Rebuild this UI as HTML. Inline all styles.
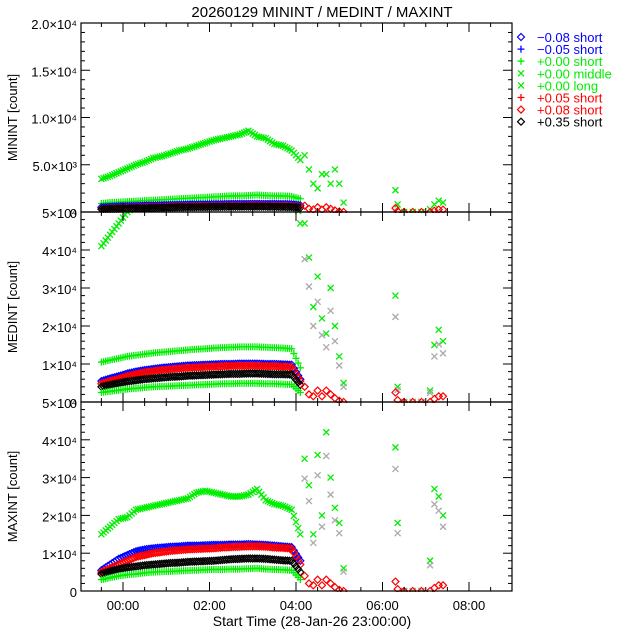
<!DOCTYPE html>
<html><head><meta charset="utf-8"><style>
body{margin:0;background:#fff;}
svg{display:block;font-family:"Liberation Sans",sans-serif;}
</style></head><body>
<svg id="c" width="640" height="640" viewBox="0 0 640 640">
<defs>
<clipPath id="cp0"><rect x="81" y="23" width="431" height="190"/></clipPath>
<clipPath id="cp1"><rect x="81" y="212" width="431" height="191"/></clipPath>
<clipPath id="cp2"><rect x="81" y="402" width="431" height="190"/></clipPath>
</defs>
<text x="322" y="17" font-size="15" text-anchor="middle">20260129 MININT / MEDINT / MAXINT</text>
<g id="marks"></g><g id="axes"></g>
<text x="312" y="626" font-size="14" text-anchor="middle">Start Time (28-Jan-26 23:00:00)</text>
<g id="legend"></g>
</svg>
<script>
const T=[-0.5,-0.3,-0.1,0.1,0.3,0.5,0.7,0.9,1.1,1.3,1.5,1.7,1.9,2.1,2.3,2.5,2.7,2.9,3.1,3.3,3.5,3.7,3.9,4.1];
// MININT (counts)
const minMid=[3500,3800,4200,4600,5000,5300,5700,5900,6200,6500,6700,7000,7300,7600,7800,8000,8200,8600,8000,7800,7200,7000,6500,5500];
const minLong=[900,1000,1050,1100,1150,1200,1250,1300,1350,1400,1450,1500,1550,1600,1650,1700,1700,1750,1800,1750,1700,1700,1650,1400];
const minBlue=[500,550,600,620,650,680,700,720,740,760,780,800,800,820,830,850,850,860,860,850,850,840,820,700];
const minRed=[400,450,500,520,550,580,600,620,640,660,680,700,700,720,730,740,750,750,760,750,740,740,720,600];
const minBlack=[300,330,360,380,400,420,440,460,480,500,510,520,530,540,550,560,560,570,570,560,550,540,520,450];
// MEDINT
const medLong=[41000,44000,47000,50000,52000,54000,56000,58000,60000,60000,60000,60000,60000,60000,60000,60000,60000,60000,60000,60000,60000,60000,60000,47000];
const medMid=[10500,11000,11500,12000,12300,12600,12900,13100,13300,13500,13700,13900,14000,14200,14300,14400,14500,14500,14500,14400,14300,14200,14000,9000];
const medBlue=[5500,6200,6800,7500,8000,8400,8700,9000,9200,9400,9600,9700,9800,9900,10000,10000,10100,10100,10100,10000,10000,9900,9800,6000];
const medRed=[4800,5500,6100,6800,7300,7800,8100,8400,8600,8800,9000,9100,9200,9300,9400,9500,9500,9500,9500,9400,9400,9300,9200,5500];
const medBlack=[4000,4500,5000,5400,5700,6000,6200,6400,6600,6700,6900,7000,7100,7200,7300,7400,7400,7500,7500,7400,7300,7300,7200,4500];
const medPlus=[2500,2800,3100,3400,3600,3800,4000,4100,4200,4300,4400,4500,4600,4700,4800,4800,4900,4900,4900,4800,4800,4700,4600,2500];
// MAXINT
const maxMid=[15000,17000,19000,19500,21500,22000,22500,23000,23500,24000,24500,26000,26500,26000,25500,25000,25000,25500,27000,24000,23000,22500,21500,15000];
const maxBlue=[5500,7000,8500,9500,10500,11000,11300,11500,11700,11800,12000,12000,12100,12200,12200,12300,12300,12400,12300,12200,12000,11800,11600,8000];
const maxRed=[5000,6000,7000,8000,9000,9500,10000,10300,10600,10800,11000,11100,11200,11300,11500,11600,11700,11800,11800,11700,11500,11400,11200,7000];
const maxBlack=[4500,5200,5800,6200,6500,6800,7000,7200,7400,7500,7700,7800,7900,8000,8200,8400,8500,8600,8600,8500,8300,8100,8000,5000];
const maxPlus=[3000,3500,4000,4300,4500,4800,5000,5100,5200,5300,5400,5500,5600,5700,5700,5800,5800,5900,6000,5800,5700,5600,5500,3000];
// sparse late scatter
const lateT=[4.2,4.3,4.4,4.5,4.6,4.7,4.8,4.9,5.0,5.1,6.3,6.35,6.5,6.7,6.9,7.1,7.2,7.3,7.4];
const minLate=[6000,4500,3000,2500,4000,4000,3000,4500,3000,1000,2300,800,0,0,0,300,800,1200,1000];
const medLate=[47000,38000,25000,33000,22000,18000,30000,20000,12000,5000,28000,4000,0,0,0,3000,15000,19000,16000];
const maxLate=[35000,28000,15000,36000,20000,42000,30000,22000,18000,6000,38000,18000,0,0,0,8000,27000,25000,20000];
const lowLate=[4000,2000,1500,3000,1500,3000,2000,1000,300,0,2500,500,0,0,0,0,800,1500,1500];

const NS='http://www.w3.org/2000/svg';
const X0=81,X1=512;
const xs=t=>123+t*43.25;
const panels=[{top:23,bot:212,max:20000},{top:212,bot:402,max:50000},{top:402,bot:591,max:50000}];
const ys=(p,v)=>panels[p].bot-Math.min(v,panels[p].max*1.05)/panels[p].max*(panels[p].bot-panels[p].top);
const G=document.getElementById('marks'),A=document.getElementById('axes'),L=document.getElementById('legend');
function el(tag,at,parent){const e=document.createElementNS(NS,tag);for(const k in at)e.setAttribute(k,at[k]);(parent||G).appendChild(e);return e;}
function mark(type,cx,cy,col,parent){
  if(type==='x')return el('path',{d:`M${cx-3} ${cy-3}L${cx+3} ${cy+3}M${cx+3} ${cy-3}L${cx-3} ${cy+3}`,stroke:col,'stroke-width':1.3,fill:'none'},parent);
  if(type==='+')return el('path',{d:`M${cx-3.5} ${cy}H${cx+3.5}M${cx} ${cy-3.5}V${cy+3.5}`,stroke:col,'stroke-width':1.3,fill:'none'},parent);
  return el('path',{d:`M${cx} ${cy-3.5}L${cx+3.5} ${cy}L${cx} ${cy+3.5}L${cx-3.5} ${cy}Z`,stroke:col,'stroke-width':1.2,fill:'none'},parent);
}
function series(p,vals,type,col,name){
  const g=el('g',{'clip-path':`url(#cp${p})`});
  
  
  vals.forEach((v,i)=>{
    if(i<vals.length-1){
      for(let k=0;k<4;k++){const f=k/4;const t=T[i]+f*(T[i+1]-T[i]);const vv=v+f*(vals[i+1]-v);
        const m=mark(type,xs(t),ys(p,vv),col,g);
        
        }
    } else {const m=mark(type,xs(T[i]),ys(p,v),col,g);
      
      }
  });
}
function late(p,vals,type,col,name){
  const g=el('g',{'clip-path':`url(#cp${p})`});
  
  
  vals.forEach((v,i)=>{const m=mark(type,xs(lateT[i]),ys(p,v),col,g);
    
    });
}
const GR='#00ee00';
series(0,minMid,'x',GR,'min-middle');series(0,minLong,'+',GR,'min-long');
series(0,minBlue,'d','#0000ff','min-blue');series(0,minRed,'+','#ff0000','min-red');series(0,minBlack,'d','#000','min-black');
late(0,minLate,'x',GR,'min-late');late(0,lowLate.map(v=>v/6),'d','#ff0000','min-late-red');
series(1,medLong,'x',GR,'med-long');series(1,medMid,'+',GR,'med-middle');
series(1,medBlue,'d','#0000ff','med-blue');series(1,medRed,'d','#ff0000','med-red');series(1,medBlack,'d','#000','med-black');series(1,medPlus,'+',GR,'med-short');
late(1,medLate,'x',GR,'med-late');late(1,medLate.map(v=>v*0.8),'x','#aaaaaa','med-late-gray');late(1,lowLate,'d','#ff0000','med-late-red');
series(2,maxMid,'x',GR,'max-middle');
series(2,maxBlue,'d','#0000ff','max-blue');series(2,maxRed,'d','#ff0000','max-red');series(2,maxBlack,'d','#000','max-black');series(2,maxPlus,'+',GR,'max-short');
late(2,maxLate,'x',GR,'max-late');late(2,maxLate.map(v=>v*0.85),'x','#aaaaaa','max-late-gray');late(2,lowLate,'d','#ff0000','max-late-red');

const yLabels=[["2.0×10⁴","1.5×10⁴","1.0×10⁴","5.0×10³","0"],["5×10⁴","4×10⁴","3×10⁴","2×10⁴","1×10⁴","0"],["5×10⁴","4×10⁴","3×10⁴","2×10⁴","1×10⁴","0"]];
const yTitles=["MININT [count]","MEDINT [count]","MAXINT [count]"];
const xLabels=["00:00","02:00","04:00","06:00","08:00"];
panels.forEach((P,p)=>{
  const r=el('rect',{x:X0,y:P.top,width:X1-X0,height:P.bot-P.top,fill:'none',stroke:'#000','stroke-width':1.2},A);
  
  
  const n=yLabels[p].length-1;
  for(let i=0;i<=n*5;i++){const y=P.top+(P.bot-P.top)*i/(n*5);const len=i%5?4:9;
    el('line',{x1:X0,x2:X0+len,y1:y,y2:y,stroke:'#000'},A);el('line',{x1:X1,x2:X1-len,y1:y,y2:y,stroke:'#000'},A);}
  yLabels[p].forEach((s,i)=>{
    const y=P.top+(P.bot-P.top)*i/n;
    const t=el('text',{x:X0-4,y:y+6,'font-size':13,'text-anchor':'end',fill:'#000'},A);t.textContent=s;
    
    });
  for(let h=-1;h<=9.01;h+=0.5){const x=xs(h);if(x<X0||x>X1)continue;const len=(h%2===0)?9:4;
    el('line',{x1:x,x2:x,y1:P.bot,y2:P.bot-len,stroke:'#000'},A);el('line',{x1:x,x2:x,y1:P.top,y2:P.top+len,stroke:'#000'},A);}
  const ty=el('text',{x:0,y:0,'font-size':13,'text-anchor':'middle',transform:`translate(17,${(P.top+P.bot)/2}) rotate(-90)`},A);
  ty.textContent=yTitles[p];
  
  
});
xLabels.forEach((s,i)=>{const t=el('text',{x:xs(i*2),y:610,'font-size':13,'text-anchor':'middle'},A);t.textContent=s;
  
  });
const legSym=['d','+','+','x','x','+','d','d'];
const legCol=['#0000ff','#0000ff',GR,GR,GR,'#ff0000','#ff0000','#000'];
const legTxt=['−0.08 short','−0.05 short','+0.00 short','+0.00 middle','+0.00 long','+0.05 short','+0.08 short','+0.35 short'];
legTxt.forEach((s,i)=>{const y=37+i*12.1;
  const m=mark(legSym[i],521,y,legCol[i],L);
  const t=el('text',{x:537,y:y+5,'font-size':13,fill:legCol[i]},L);t.textContent=s;
  
  });
</script>
</body></html>
